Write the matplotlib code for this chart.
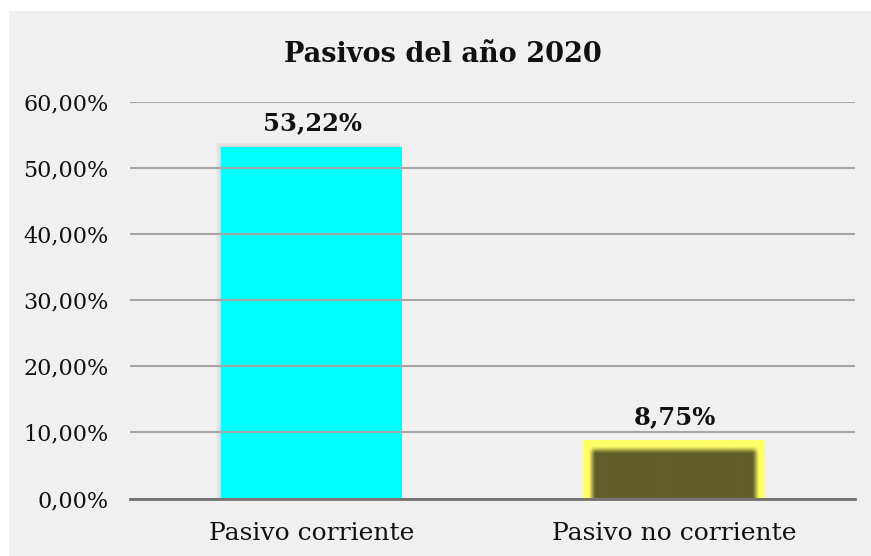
import numpy as np
import matplotlib
matplotlib.use("Agg")
import matplotlib.pyplot as plt
from matplotlib.patches import Rectangle

# ---- data ----
categories = ["Pasivo corriente", "Pasivo no corriente"]
values = [53.22, 8.75]
value_labels = ["53,22%", "8,75%"]
y_ticks = [0, 10, 20, 30, 40, 50, 60]
y_tick_labels = ["0,00%", "10,00%", "20,00%", "30,00%", "40,00%", "50,00%", "60,00%"]
title = "Pasivos del año 2020"

W, H = 871, 556
fig = plt.figure(figsize=(W / 100, H / 100), dpi=100, facecolor="white")
bg = Rectangle((9 / W, 0), 1 - 9 / W, (H - 11) / H, transform=fig.transFigure,
               facecolor="#f0f0f0", edgecolor="none", zorder=-10)
fig.patches.append(bg)

ax_l, ax_r, ax_b, ax_t = 130, 855, 498.5, 101.7
ax = fig.add_axes([ax_l / W, (H - ax_b) / H, (ax_r - ax_l) / W, (ax_b - ax_t) / H])
ax.set_facecolor("none")
ax.set_zorder(1)

x = np.arange(len(categories))
bars = ax.bar(x, values, width=0.5, color=["#00ffff", "#ffff66"], zorder=1)
ax.set_xlim(-0.5, len(categories) - 0.5)
ax.set_ylim(0, 60)

# pixel -> data conversion
px_x = (len(categories)) / (ax_r - ax_l)
px_y = 60 / (ax_b - ax_t)

# soft shadow behind first bar (mostly to the left and top)
b0 = bars[0]
for k in range(1, 6):
    ax.add_patch(Rectangle((b0.get_x() - k * px_x, 0),
                           b0.get_width() + k * 0.6 * px_x,
                           b0.get_height() + k * 0.8 * px_y,
                           facecolor="#555555", alpha=0.03, edgecolor="none", zorder=0.5))

# glow effect on second bar: dark olive core with blurred edges inside yellow bar
b1 = bars[1]
bx0, bw, bh = b1.get_x(), b1.get_width(), b1.get_height()
npx_w = int(round(bw / px_x))
npx_h = int(round(bh / px_y))
xx = np.arange(npx_w) + 0.5
yy = np.arange(npx_h) + 0.5  # from top
XX, YY = np.meshgrid(xx, yy)
def smooth(d, start=5.0, span=8.0):
    t = np.clip((d - start) / span, 0, 1)
    return t * t * (3 - 2 * t)
t = smooth(XX) * smooth(npx_w - XX) * smooth(YY, 5.5, 8.5)
yellow = np.array([255, 255, 102]) / 255
olive = np.array([96, 94, 42]) / 255
img = yellow[None, None, :] * (1 - t[..., None]) + olive[None, None, :] * t[..., None]
ax.imshow(img, extent=[bx0, bx0 + bw, 0, bh], aspect="auto", interpolation="bilinear",
          origin="upper", zorder=1.5)
ax.set_xlim(-0.5, len(categories) - 0.5)
ax.set_ylim(0, 60)

# grid and spines
ax.set_axisbelow(False)
ax.yaxis.grid(True, color="#a6a6a6", linewidth=1.5, zorder=2)
ax.xaxis.grid(False)
for s in ["left", "right", "top"]:
    ax.spines[s].set_visible(False)
ax.spines["bottom"].set_color("#767171")
ax.spines["bottom"].set_linewidth(2.0)
ax.spines["bottom"].set_zorder(3)

ax.set_yticks(y_ticks)
ax.set_yticklabels(y_tick_labels, fontfamily="DejaVu Serif", fontsize=16, color="#111111")
ax.set_xticks(x)
ax.set_xticklabels(categories, fontfamily="DejaVu Serif", fontsize=18, color="#111111")
ax.tick_params(axis="y", length=0, pad=15.5)
ax.tick_params(axis="x", length=0, pad=17)

# data labels
for b, lab in zip(bars, value_labels):
    ax.annotate(lab, (b.get_x() + b.get_width() / 2, b.get_height()), xytext=(1, 12),
                textcoords="offset points", ha="center", va="baseline",
                fontfamily="DejaVu Serif", fontweight="bold", fontsize=17.5,
                color="#111111", zorder=4)

fig.text(443 / W, (H - 62) / H, title, ha="center", va="baseline",
         fontfamily="DejaVu Serif", fontweight="bold", fontsize=19.5, color="#111111")

fig.savefig("out.png", dpi=100, facecolor="white")
